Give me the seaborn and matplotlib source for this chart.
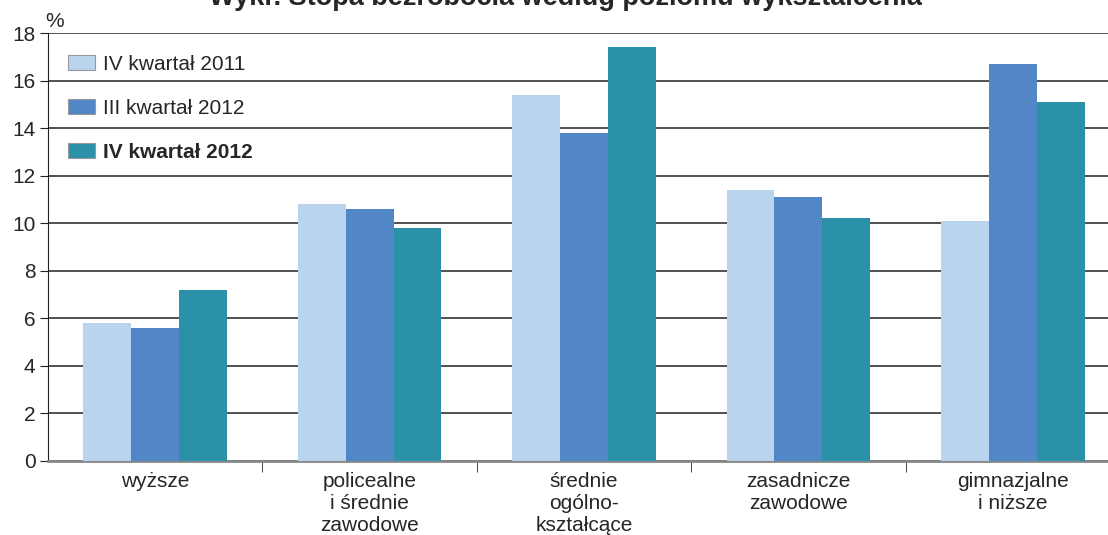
import numpy as np
import pandas as pd
import seaborn as sns
import matplotlib.pyplot as plt
from matplotlib.ticker import MultipleLocator, FixedLocator

categories = ["wyższe", "policealne\ni średnie\nzawodowe", "średnie\nogólno-\nkształcące",
              "zasadnicze\nzawodowe", "gimnazjalne\ni niższe"]
series = ["IV kwartał 2011", "III kwartał 2012", "IV kwartał 2012"]
q4_2011 = [5.8, 10.8, 15.4, 11.4, 10.1]
q3_2012 = [5.6, 10.6, 13.8, 11.1, 16.7]
q4_2012 = [7.2, 9.8, 17.4, 10.2, 15.1]
colors = ["#BBD4EE", "#5187C7", "#2B91A9"]

df = pd.DataFrame({
    "kategoria": categories * 3,
    "okres": [s for s in series for _ in categories],
    "stopa": q4_2011 + q3_2012 + q4_2012,
})

sns.set_style("white")
plt.rcParams['font.family'] = ['Liberation Sans', 'DejaVu Sans']

W, H = 1108, 535
fig = plt.figure(figsize=(W / 100, H / 100), dpi=100)
# axes runs slightly past the right edge, as in the source
ax = fig.add_axes([48 / W, 74 / H, 1072 / W, 428 / H])

sns.barplot(data=df, x="kategoria", y="stopa", hue="okres", palette=colors,
            width=0.67, saturation=1, ax=ax, legend=False, zorder=3)
for p in ax.patches:
    p.set_edgecolor("none")

ax.set_ylim(0, 18)
ax.set_xlim(-0.5, 4.5)
ax.yaxis.set_major_locator(MultipleLocator(2))
ax.grid(axis="y", color="#333333", linewidth=1.2, zorder=0)
ax.set_axisbelow(True)
ax.set_xlabel("")
ax.set_ylabel("")

for s in ["top", "right"]:
    ax.spines[s].set_visible(False)
ax.spines["left"].set_color("#222222")
ax.spines["bottom"].set_color("#888888")
ax.spines["bottom"].set_linewidth(2)

ax.tick_params(axis="y", labelsize=15, length=6, direction="out", color="#222222",
               left=True, pad=3)
ax.tick_params(axis="x", which="major", length=0, labelsize=15, pad=8)
ax.xaxis.set_minor_locator(FixedLocator(np.arange(0.5, 4.5, 1)))
ax.tick_params(axis="x", which="minor", length=8, color="#222222", bottom=True)
for lab in ax.get_xticklabels():
    lab.set_linespacing(1.18)

fig.text(45 / W, 1 - 27 / H, "%", fontsize=15, ha="left", va="baseline")

handles = [plt.Rectangle((0, 0), 1, 1, facecolor=c, edgecolor="#999999", linewidth=0.8)
           for c in colors]
leg = fig.legend(handles, series, loc="upper left", bbox_to_anchor=(51 / W, 1 - 38 / H),
                 frameon=False, fontsize=15, handlelength=1.3, handleheight=0.7,
                 labelspacing=1.2, handletextpad=0.4, borderpad=0.3)
leg.get_texts()[2].set_fontweight("bold")

fig.text(565 / W, 1 - 5 / H, "Wykr. Stopa bezrobocia według poziomu wykształcenia",
         fontsize=19.5, fontweight="bold", ha="center", va="baseline")

fig.savefig("out.png", dpi=100)
